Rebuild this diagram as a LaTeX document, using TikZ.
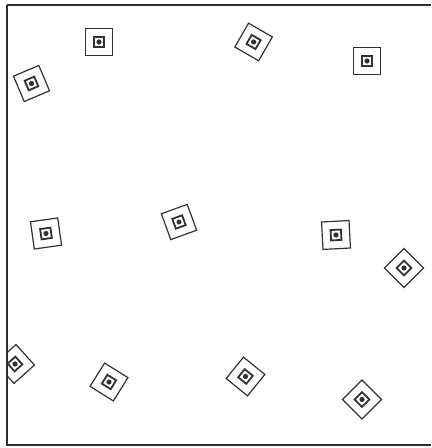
\documentclass[tikz,border=0pt]{standalone}
\usetikzlibrary{calc}
\definecolor{ink}{RGB}{50,50,50}
\definecolor{frameink}{RGB}{45,45,45}
\tikzset{
  every picture/.style={x=0.25mm, y=0.25mm, line join=miter},
  rim/.style={draw=frameink, line width=0.45mm},
  outerbox/.style={draw=ink, line width=0.3mm},
  innerbox/.style={draw=ink, line width=0.45mm},
  target/.pic={
    \draw[outerbox] (-13.75,-13.75) rectangle (13.75,13.75);
    \draw[innerbox] (-5.2,-5.2) rectangle (5.2,5.2);
    \fill[ink] (0,0) circle[radius=2.6];
  },
}

\begin{document}
\begin{tikzpicture}
  \useasboundingbox (0,0) rectangle (431,448);
  % frame corners (y measured from the bottom)
  \coordinate (tl) at (7,443);
  \coordinate (tr) at (431,443);
  \coordinate (bl) at (7,3);
  \coordinate (br) at (431,3);
  \begin{scope}
    \clip (tl) rectangle (br);
    % x / y / turn of each target
    \foreach \x/\y/\a [count=\i] in {
        99/406/0, 31.5/364.5/23, 253.6/406/-30, 367/387/0,
        46/214.5/8, 179/226/20, 336/213/3, 404/180/45,
        15/84/42, 109/66/-32, 245.5/71.5/-39, 362/48.5/45}
      \pic[rotate=\a] (t\i) at (\x,\y) {target};
  \end{scope}
  \draw[rim] (tr) -- (tl);
  \draw[rim, line width=0.38mm] (tl) -- (bl) -- (br);
\end{tikzpicture}
\end{document}
